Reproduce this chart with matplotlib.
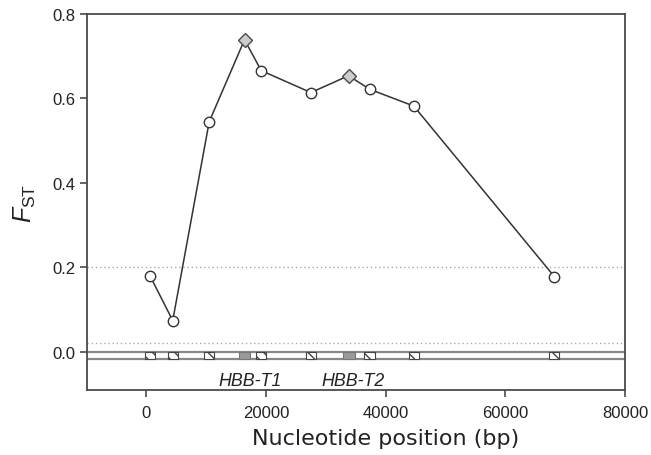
import matplotlib.pyplot as plt
import numpy as np
from matplotlib.patches import Rectangle

plt.rcParams['font.family'] = ['Liberation Sans', 'DejaVu Sans']
plt.rcParams['mathtext.fontset'] = 'custom'
plt.rcParams['mathtext.rm'] = 'Liberation Sans'
plt.rcParams['mathtext.it'] = 'Liberation Sans:italic'
plt.rcParams['hatch.linewidth'] = 1.0

# sampled loci along the region
position = [600, 4400, 10500, 16400, 19200, 27500, 33800, 37300, 44700, 68200]
fst = [0.180, 0.074, 0.545, 0.739, 0.666, 0.614, 0.654, 0.622, 0.582, 0.178]
# True for loci inside the HBB-T genes (drawn as diamonds / solid boxes)
in_gene = [False, False, False, True, False, False, True, False, False, False]

gene_names = ['HBB-T1', 'HBB-T2']
gene_label_x = [17300, 34500]

thresholds = [0.2, 0.02]

xticks = [0, 20000, 40000, 60000, 80000]
yticks = [0.0, 0.2, 0.4, 0.6, 0.8]

fig = plt.figure(figsize=(6.51, 4.56), dpi=100)
ax = fig.add_axes([0.133, 0.143, 0.827, 0.824])

edge = '#4a4a4a'
for t in thresholds:
    ax.axhline(t, color='#aaaaaa', lw=1.0, ls=(0, (1, 2)), zorder=1)

# gene track under the curve
track_top, track_bot = 0.0, -0.016
ax.axhline(track_top, color='#888888', lw=1.6, zorder=2)
ax.axhline(track_bot, color='#888888', lw=1.6, zorder=2)
for x, g in zip(position, in_gene):
    if g:
        ax.add_patch(Rectangle((x - 1000, track_bot), 2000, track_top - track_bot,
                               facecolor='#999999', edgecolor='#777777', lw=0.8, zorder=3))
    else:
        ax.add_patch(Rectangle((x - 850, track_bot), 1700, track_top - track_bot,
                               facecolor='white', edgecolor='#444444', hatch='\\\\\\',
                               lw=0.8, zorder=3))
for name, x in zip(gene_names, gene_label_x):
    ax.text(x, -0.067, name, style='italic', fontsize=12.8, color='#222222',
            ha='center', va='center')

ax.plot(position, fst, color='#333333', lw=1.1, zorder=4)
pos = np.array(position)
val = np.array(fst)
mask = np.array(in_gene)
ax.plot(pos[~mask], val[~mask], 'o', ms=7.5, mfc='white', mec='#333333', mew=1.0,
        ls='none', zorder=5)
ax.plot(pos[mask], val[mask], 'D', ms=7.5, mfc='#cccccc', mec=edge, mew=1.0,
        ls='none', zorder=5)

ax.set_xlim(-10000, 80000)
ax.set_ylim(-0.09, 0.8)
ax.set_xticks(xticks)
ax.set_xticklabels([str(t) for t in xticks])
ax.set_yticks(yticks)
ax.set_yticklabels(['%.1f' % t for t in yticks])
ax.tick_params(direction='out', length=5, width=1.2, color=edge, labelsize=12,
               labelcolor='#222222')
ax.tick_params(axis='x', pad=6)
ax.tick_params(axis='y', pad=3)
for s in ax.spines.values():
    s.set_color(edge)
    s.set_linewidth(1.3)

# x label sits under the 0-80000 span rather than the full axis
ax.set_xlabel('Nucleotide position (bp)', fontsize=16, family='DejaVu Sans',
              color='#222222')
ax.xaxis.set_label_coords(50000 / 90000, -0.102)
ax.set_ylabel(r'$\mathit{F}_{\mathrm{ST}}$', fontsize=18, color='#222222', labelpad=10)

fig.savefig('out.png', dpi=100)
